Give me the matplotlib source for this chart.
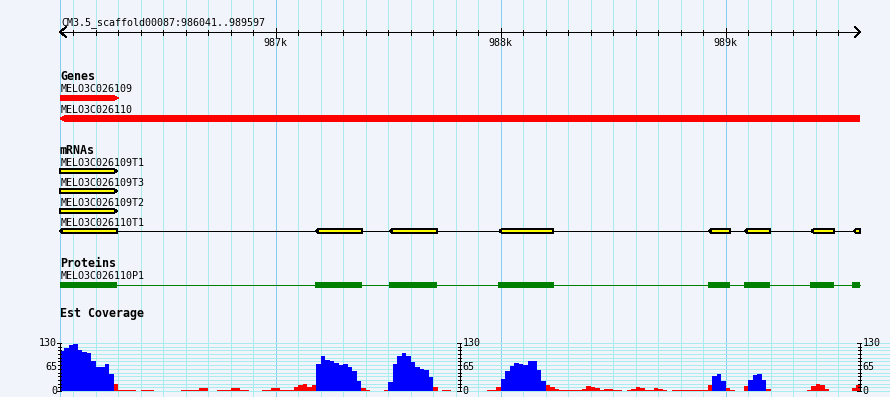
import matplotlib
matplotlib.use('Agg')
import matplotlib.pyplot as plt
from matplotlib.patches import Polygon
import numpy as np

# region shown
ref_name = 'CM3.5_scaffold00087'
view_start = 986041
view_end = 989597

# genes track
gene_names = ['MELO3C026109', 'MELO3C026110']
gene_spans = [(986041, 986300), (986041, 989700)]
gene_strands = [1, -1]

# mRNA track (exons)
mrna_names = ['MELO3C026109T1', 'MELO3C026109T3', 'MELO3C026109T2', 'MELO3C026110T1']
mrna_strands = [1, 1, 1, -1]
mrna_exons = [
    [(986041, 986293)],
    [(986041, 986293)],
    [(986041, 986293)],
    [(986041, 986293), (987179, 987382), (987508, 987715), (987994, 988234),
     (988927, 989018), (989087, 989196), (989381, 989480), (989570, 989700)],
]

# protein track (CDS blocks)
protein_name = 'MELO3C026110P1'
protein_blocks = [(986041, 986294), (987175, 987384), (987503, 987717), (987988, 988237),
                  (988921, 989019), (989081, 989197), (989375, 989481), (989561, 989700)]

# EST coverage, 20 bp bins from 986040
cov_start = 986040
cov_bin = 20
coverage = [108, 117, 124, 127, 110, 106, 103, 80, 64, 66,
            72, 45, 18, 4, 4, 4, 4, 0, 4, 4,
            4, 0, 0, 0, 0, 0, 0, 3, 3, 3,
            3, 7, 7, 0, 0, 4, 4, 3, 7, 7,
            3, 3, 0, 0, 0, 3, 3, 8, 8, 3,
            3, 3, 10, 17, 19, 12, 17, 72, 94, 83,
            81, 77, 71, 73, 64, 53, 28, 7, 3, 0,
            0, 0, 4, 24, 72, 96, 104, 94, 79, 65,
            59, 56, 38, 11, 0, 3, 3, 0, 0, 0,
            0, 0, 0, 0, 0, 3, 3, 10, 32, 53,
            68, 75, 74, 70, 80, 82, 58, 28, 16, 10,
            6, 3, 3, 3, 3, 3, 6, 13, 10, 8,
            3, 6, 5, 3, 3, 0, 4, 6, 10, 8,
            3, 4, 8, 6, 3, 0, 2, 3, 3, 3,
            3, 3, 3, 3, 15, 40, 47, 26, 7, 3,
            0, 0, 13, 29, 42, 47, 30, 6, 0, 0,
            0, 0, 0, 0, 0, 0, 4, 14, 19, 17,
            6, 0, 0, 0, 0, 0, 8, 15]
cov_max = 130
cov_pivot = 20
cov_labels = [0, 65, 130]

bg = '#f1f4fa'
grid_minor = '#a8ecf0'
grid_major = '#84cdee'
mono = 'DejaVu Sans Mono'
small = 7.2
bold = 8.4
LW = 0.72  # one pixel at 100 dpi

# crisp, GD-like lines
plt.rcParams['lines.antialiased'] = False
plt.rcParams['patch.antialiased'] = False

W, H = 890, 397
fig = plt.figure(figsize=(W / 100, H / 100), dpi=100)
fig.patch.set_facecolor(bg)
px = 800 / (view_end - view_start)  # pixels per bp

ax = fig.add_axes([0, 0, 1, 1])
ax.set_xlim(view_start - 60 / px, view_start + 830 / px)
ax.set_ylim(H, 0)
ax.axis('off')

# vertical grid
ax.axvline(view_start, color=grid_major, lw=LW, zorder=0)
for g in range(986100, view_end, 100):
    ax.axvline(g, color=grid_major if g % 1000 == 0 else grid_minor, lw=LW, zorder=0)

# ruler
ax.text(view_start + 1 / px, 25, f'{ref_name}:{view_start}..{view_end}',
        family=mono, fontsize=small, va='baseline', ha='left')
ax.plot([view_start, view_end], [32, 32], color='k', lw=LW)
ax.plot([view_start + 6 / px, view_start, view_start + 6 / px], [27, 32, 37], color='k', lw=LW)
ax.plot([view_end - 5 / px, view_end, view_end - 5 / px], [27, 32, 37], color='k', lw=LW)
for g in range(986100, view_end, 100):
    if g % 1000 == 0:
        ax.plot([g, g], [28, 37], color='k', lw=LW)
        ax.text(g, 46, f'{g // 1000}k', family=mono, fontsize=small, ha='center', va='baseline')
    else:
        ax.plot([g, g], [30, 35], color='k', lw=LW)


def clip(a, b):
    return max(a, view_start), min(b, view_end)


def block(x0, x1, yc, h, tip_side, tip, face, edge=None):
    x0, x1 = clip(x0, x1)
    t, b = yc - h / 2, yc + h / 2
    tw = tip / px
    if tip_side > 0:
        pts = [(x0, t), (x1 - tw, t), (x1, yc), (x1 - tw, b), (x0, b)]
    elif tip_side < 0:
        pts = [(x0 + tw, t), (x1, t), (x1, b), (x0 + tw, b), (x0, yc)]
    else:
        pts = [(x0, t), (x1, t), (x1, b), (x0, b)]
    ax.add_patch(Polygon(pts, closed=True, facecolor=face,
                         edgecolor=edge if edge else face, lw=LW if edge else 0, zorder=3))


def label(y, s, is_title=False):
    ax.text(view_start + (0 if is_title else 1 / px), y, s, family=mono,
            fontsize=bold if is_title else small,
            fontweight='bold' if is_title else 'normal', va='baseline', ha='left')


# Genes
label(80, 'Genes', True)
gene_y = [(92.3, 98), (113.3, 118.5)]
for name, (s, e), strand, (ty, by) in zip(gene_names, gene_spans, gene_strands, gene_y):
    label(ty, name)
    block(s, e, by, 6, strand, 5, '#ff0000')

# mRNAs
label(154.3, 'mRNAs', True)
mrna_y = [(166, 171), (186, 191), (206, 211), (226, 231)]
for name, exons, strand, (ty, by) in zip(mrna_names, mrna_exons, mrna_strands, mrna_y):
    label(ty, name)
    if len(exons) > 1:
        s, e = clip(exons[0][0], exons[-1][1])
        ax.plot([s, e], [by, by], color='k', lw=LW, zorder=2)
    for s, e in exons:
        block(s, e, by, 4, strand, 2.5, '#ffff00', 'k')

# Proteins
label(267, 'Proteins', True)
label(279.3, protein_name)
s, e = clip(protein_blocks[0][0], protein_blocks[-1][1])
ax.plot([s, e], [284.5, 284.5], color='#008000', lw=LW, zorder=2)
for s, e in protein_blocks:
    block(s, e, 284.5, 6, 0, 0, '#008000')

# Est coverage
label(317.5, 'Est Coverage', True)
cax = fig.add_axes([60 / W, 6 / H, 800 / W, 48 / H])
cax.set_xlim(view_start, view_end)
cax.set_ylim(0, cov_max)
cax.axis('off')
for v in range(0, cov_max + 1, 10):
    cax.axhline(v, xmin=0, xmax=830 / 800, color=grid_minor, lw=LW, clip_on=False, zorder=0)
edges = cov_start + cov_bin * np.arange(len(coverage))
colors = ['#0000ff' if v > cov_pivot else '#ff0000' for v in coverage]
cax.bar(edges, coverage, width=cov_bin, align='edge', color=colors, linewidth=0, zorder=2)

mid = (view_start + view_end) / 2
for xg, side in [(view_start, -1), (mid, 1), (view_end, 1)]:
    cax.plot([xg, xg], [0, cov_max], color='k', lw=LW, clip_on=False, zorder=4)
    for v in range(0, cov_max + 1, 10):
        ln = (3 if v in cov_labels else 2) / px
        cax.plot([xg - ln, xg + 1.5 / px], [v, v], color='k', lw=LW, clip_on=False, zorder=4)
    for v in cov_labels:
        if side < 0:
            cax.text(xg - 3 / px, v, str(v), family=mono, fontsize=small, ha='right', va='center')
        else:
            cax.text(xg + 2.5 / px, v, str(v), family=mono, fontsize=small, ha='left', va='center')

fig.savefig('out.png', dpi=100, facecolor=bg)
